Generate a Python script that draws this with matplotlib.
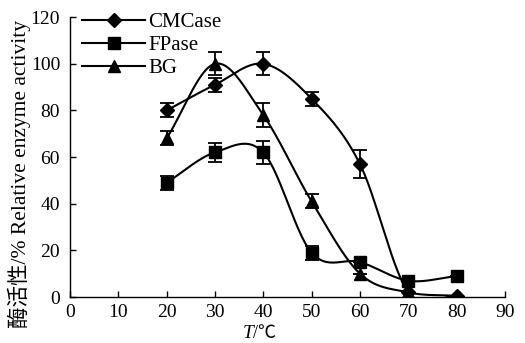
import numpy as np
import matplotlib
matplotlib.use("Agg")
import matplotlib.pyplot as plt
from matplotlib.lines import Line2D

temps = [20, 30, 40, 50, 60, 70, 80]
cmcase = [80, 91, 100, 85, 57, 2, 0.5]
cmcase_err = [3, 3, 5, 3, 6, 0, 0]
fpase = [49, 62, 62, 19, 15, 7, 9]
fpase_err = [3, 4, 5, 3, 0, 0, 0]
bg = [68, 100, 78, 41, 10, 2, 0.5]
bg_err = [3, 5, 5, 3, 0, 0, 0]

xticks = list(range(0, 100, 10))
yticks = list(range(0, 140, 20))

plt.rcParams['font.family'] = ['Liberation Serif', 'Noto Sans CJK SC']

def catmull(x, y, n=30):
    x = np.asarray(x, float); y = np.asarray(y, float)
    P = np.column_stack([x, y])
    P = np.vstack([P[0] - (P[1] - P[0]), P, P[-1] + (P[-1] - P[-2])])
    out = []
    for i in range(1, len(P) - 2):
        p0, p1, p2, p3 = P[i-1], P[i], P[i+1], P[i+2]
        t = np.linspace(0, 1, n)[:, None]
        pts = 0.5 * ((2*p1) + (-p0 + p2)*t + (2*p0 - 5*p1 + 4*p2 - p3)*t**2 + (-p0 + 3*p1 - 3*p2 + p3)*t**3)
        out.append(pts if i == 1 else pts[1:])
    out = np.vstack(out)
    return out[:, 0], out[:, 1]

fig = plt.figure(figsize=(5.25, 3.43), dpi=100)
ax = fig.add_axes([0.133, 0.134, 0.829, 0.816])

series = [(cmcase, cmcase_err, 'D', 7.5, 'CMCase'),
          (fpase, fpase_err, 's', 8.5, 'FPase'),
          (bg, bg_err, '^', 9, 'BG')]
handles = []
for vals, err, m, ms, lab in series:
    sx, sy = catmull(temps, vals)
    ax.plot(sx, sy, color='black', lw=1.5, zorder=2)
    ax.errorbar(temps, vals, yerr=err, fmt=m, color='black', ms=ms,
                ecolor='black', elinewidth=1.3, capsize=5, capthick=1.3, zorder=3)
    handles.append(Line2D([], [], color='black', lw=1.5, marker=m, ms=ms, label=lab))

ax.set_xlim(0, 90)
ax.set_ylim(0, 120)
ax.set_xticks(xticks)
ax.set_yticks(yticks)
ax.tick_params(direction='in', labelsize=14, length=4, width=1)
ax.tick_params(axis='y', pad=7)
ax.tick_params(axis='x', pad=5)
for s in ['top', 'right']:
    ax.spines[s].set_visible(False)
for s in ['left', 'bottom']:
    ax.spines[s].set_linewidth(1)

# x label: italic T followed by /℃
ax.text(37.9, -0.145, 'T', transform=ax.get_xaxis_transform(), ha='right', va='baseline',
        fontsize=14, fontstyle='italic')
ax.text(37.9, -0.145, '/℃', transform=ax.get_xaxis_transform(), ha='left', va='baseline',
        fontsize=13)
ax.set_ylabel('酶活性/% Relative enzyme activity', fontsize=15.5)
ax.yaxis.set_label_coords(-0.09, 0.44)

ax.legend(handles=handles, loc='upper left', bbox_to_anchor=(0.0, 1.06), frameon=False,
          fontsize=15, handlelength=3.0, handletextpad=0.15, labelspacing=0.15, borderaxespad=0.2)

fig.savefig('out.png', dpi=100)
